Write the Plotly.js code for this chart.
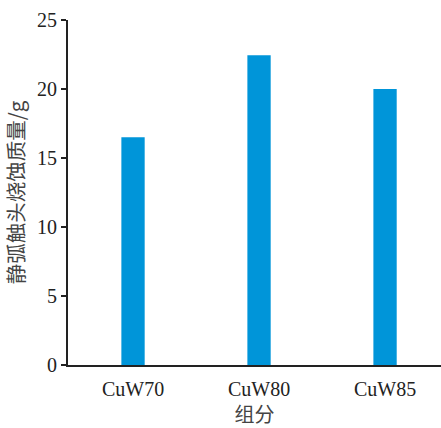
<!DOCTYPE html>
<html>
<head>
<meta charset="utf-8">
<script src="https://cdn.plot.ly/plotly-3.0.1.min.js"></script>
<style>html,body{margin:0;padding:0;background:#fff;}#chart{width:441px;height:428px;}</style>
</head>
<body>
<div id="chart"></div>
<script>
const categories = ["CuW70", "CuW80", "CuW85"];
const erosionMass = [16.5, 22.45, 20.0];
const yTickVals = [0, 5, 10, 15, 20, 25];

const fontFamily = '"Liberation Serif", "Times New Roman", "Noto Sans CJK SC", serif';
const cjkFamily = '"Noto Sans CJK SC", "Liberation Serif", serif';

Plotly.newPlot('chart', [{
  type: 'bar',
  x: categories,
  y: erosionMass,
  width: 0.185,
  marker: {color: '#0095d9', line: {width: 0}},
  hoverinfo: 'none'
}], {
  width: 441,
  height: 428,
  margin: {l: 68, r: 0, t: 20, b: 63},
  paper_bgcolor: '#fff',
  plot_bgcolor: '#fff',
  showlegend: false,
  font: {family: fontFamily, size: 20, color: '#222'},
  xaxis: {
    type: 'category',
    range: [-0.516, 2.444],
    showline: true,
    linecolor: '#222',
    linewidth: 1.5,
    ticks: 'outside',
    ticklen: 5,
    tickcolor: 'rgba(0,0,0,0)',
    showgrid: false,
    zeroline: false,
    tickfont: {family: fontFamily, size: 20, color: '#222'},
    title: {text: '组分', font: {family: cjkFamily, size: 20, color: '#444'}, standoff: 13}
  },
  yaxis: {
    range: [0, 25],
    tickvals: yTickVals,
    showline: true,
    linecolor: '#222',
    linewidth: 2,
    ticks: 'outside',
    ticklen: 5,
    tickwidth: 1.5,
    tickcolor: '#222',
    showgrid: false,
    zeroline: false,
    tickfont: {family: fontFamily, size: 20, color: '#222'},
    title: {text: '静弧触头烧蚀质量/g', font: {family: cjkFamily, size: 20.5, color: '#444'}, standoff: 8}
  }
}, {staticPlot: true});
</script>
</body>
</html>
